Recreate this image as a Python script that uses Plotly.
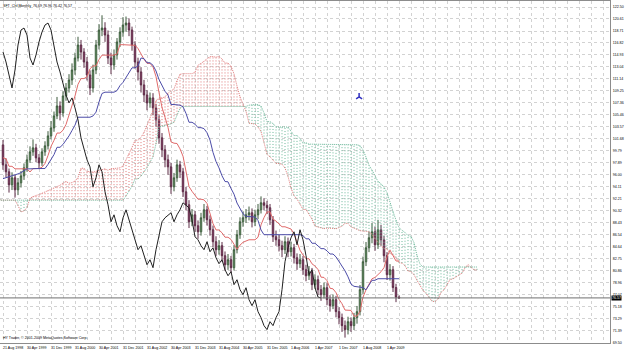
import numpy as np
import pandas as pd
import plotly.graph_objects as go

title_text = "SFT_Chf,Monthly  76.69 76.96 76.42 76.57"
copyright_text = "HY Trader, \u00a9 2001-2009 MetaQuotes Software Corp."

# Monthly bars before the first visible bar (off-screen to the left); they only feed
# the Ichimoku windows, estimated from the indicator lines seen at the left edge.
pre_high = [101.6, 98.2, 93.4, 88.6, 89.4, 91.0, 91.8, 92.4, 93.0, 93.6,
            94.2, 94.8, 95.4, 96.0, 96.8, 97.2, 97.5, 98.0, 98.6, 98.9,
            99.3, 99.0, 98.6, 99.4, 99.8, 100.2, 99.6, 100.4, 100.9, 101.2]
pre_low = [97.0, 92.0, 85.2, 82.4, 84.0, 89.3, 89.6, 89.8, 90.0, 90.3,
           90.8, 91.2, 91.8, 92.4, 93.0, 94.0, 95.0, 95.6, 96.0, 96.3,
           96.6, 96.2, 95.9, 96.4, 97.0, 97.5, 97.0, 97.6, 98.2, 98.9]

open_ = [100.73, 97.58, 96.48, 94.43, 95.53, 93.64, 94.74, 95.84, 97.11, 98.37,
         99.63, 100.26, 98.68, 97.90, 99.63, 100.58, 102.15, 103.41, 105.31, 106.88,
         105.78, 108.46, 109.72, 110.98, 112.56, 114.45, 116.50, 115.40, 113.82, 111.77,
         109.72, 112.56, 116.50, 118.87, 119.18, 118.08, 114.45, 113.35, 114.93, 116.98,
         118.55, 119.66, 119.97, 118.87, 116.50, 113.82, 112.25, 110.20, 108.62, 107.36,
         108.15, 106.57, 104.68, 101.84, 99.95, 98.37, 97.26, 94.11, 95.53, 97.58,
         96.48, 93.32, 91.27, 88.59, 89.69, 87.96, 87.01, 89.22, 90.48, 88.91,
         87.33, 85.44, 84.18, 84.81, 83.23, 81.81, 82.60, 81.34, 84.18, 86.54,
         88.59, 89.22, 89.69, 90.01, 88.59, 89.69, 90.48, 91.59, 91.20, 90.80,
         88.91, 86.23, 85.75, 84.81, 84.18, 85.44, 83.86, 84.49, 82.91, 81.97,
         82.60, 81.02, 80.07, 80.71, 78.66, 79.44, 77.87, 77.08, 78.18, 76.29,
         75.34, 76.29, 74.40, 73.45, 72.19, 71.56, 72.82, 72.19, 73.45, 74.40,
         77.87, 82.28, 84.49, 86.07, 87.01, 84.96, 87.33, 85.75, 83.23, 80.23,
         81.02, 78.20, 76.69]
high = [101.5, 98.6, 97.0, 96.4, 96.0, 95.5, 96.6, 97.8, 99.2, 100.5,
        101.6, 100.9, 99.3, 100.2, 101.3, 102.9, 104.5, 106.0, 108.3, 107.6,
        109.2, 110.5, 111.9, 113.6, 115.3, 117.8, 117.3, 116.0, 114.6, 112.5,
        113.4, 117.3, 119.8, 121.2, 120.1, 118.8, 115.3, 115.8, 117.6, 119.3,
        120.9, 121.0, 120.7, 119.4, 117.1, 114.5, 113.0, 111.0, 109.4, 109.0,
        108.9, 107.2, 105.4, 102.6, 100.7, 99.2, 97.9, 96.3, 98.4, 98.2,
        97.1, 94.1, 92.0, 90.6, 90.3, 88.8, 90.0, 91.4, 91.1, 89.6,
        88.0, 86.3, 85.7, 85.4, 83.9, 83.5, 83.2, 84.9, 87.3, 89.3,
        90.2, 90.6, 91.0, 90.7, 90.5, 91.4, 92.6, 92.3, 91.9, 91.4,
        89.5, 87.2, 86.5, 85.6, 86.3, 86.1, 85.4, 85.1, 83.6, 83.5,
        83.2, 81.8, 81.6, 81.3, 80.3, 80.1, 78.6, 79.0, 78.9, 77.0,
        77.1, 76.9, 75.1, 74.1, 73.0, 73.6, 73.5, 74.2, 75.3, 78.6,
        83.1, 85.4, 87.0, 88.4, 87.8, 88.9, 88.1, 86.4, 83.8, 81.9,
        81.6, 78.8, 76.96]
low = [96.8, 95.6, 93.2, 93.6, 92.4, 92.8, 94.0, 95.2, 96.5, 97.9,
       99.0, 98.0, 96.9, 97.4, 99.0, 100.0, 101.6, 102.8, 104.8, 104.6,
       105.2, 107.7, 109.0, 110.2, 111.8, 113.9, 114.2, 112.9, 110.9, 108.6,
       109.0, 111.9, 115.8, 117.9, 117.0, 113.5, 111.9, 112.6, 114.2, 116.2,
       117.8, 118.6, 117.9, 115.6, 112.8, 110.9, 109.0, 107.5, 106.2, 106.6,
       105.4, 103.6, 100.9, 98.8, 97.2, 96.0, 93.0, 93.4, 94.9, 95.5,
       92.5, 90.4, 87.6, 87.9, 87.0, 85.9, 86.4, 88.6, 88.0, 86.4,
       84.6, 83.2, 83.4, 82.3, 80.9, 81.0, 80.5, 80.9, 83.6, 85.9,
       87.8, 88.4, 88.8, 87.7, 87.9, 89.0, 89.9, 90.4, 89.8, 88.1,
       85.4, 84.8, 83.9, 83.0, 83.5, 83.0, 83.1, 82.0, 81.0, 81.3,
       80.2, 79.2, 79.4, 77.8, 78.0, 77.0, 76.1, 76.5, 75.4, 74.4,
       74.8, 73.5, 72.4, 71.2, 70.3, 70.8, 71.2, 71.5, 72.5, 73.8,
       77.2, 81.6, 83.8, 85.2, 84.0, 84.3, 84.8, 82.2, 79.4, 79.3,
       77.5, 75.9, 76.42]
close = [97.58, 96.48, 94.43, 95.53, 93.64, 94.74, 95.84, 97.11, 98.37, 99.63,
         100.26, 98.68, 97.90, 99.63, 100.58, 102.15, 103.41, 105.31, 106.88, 105.78,
         108.46, 109.72, 110.98, 112.56, 114.45, 116.50, 115.40, 113.82, 111.77, 109.72,
         112.56, 116.50, 118.87, 119.18, 118.08, 114.45, 113.35, 114.93, 116.98, 118.55,
         119.66, 119.97, 118.87, 116.50, 113.82, 112.25, 110.20, 108.62, 107.36, 108.15,
         106.57, 104.68, 101.84, 99.95, 98.37, 97.26, 94.11, 95.53, 97.58, 96.48,
         93.32, 91.27, 88.59, 89.69, 87.96, 87.01, 89.22, 90.48, 88.91, 87.33,
         85.44, 84.18, 84.81, 83.23, 81.81, 82.60, 81.34, 84.18, 86.54, 88.59,
         89.22, 89.69, 90.01, 88.59, 89.69, 90.48, 91.59, 91.20, 90.80, 88.91,
         86.23, 85.75, 84.81, 84.18, 85.44, 83.86, 84.49, 82.91, 81.97, 82.60,
         81.02, 80.07, 80.71, 78.66, 79.44, 77.87, 77.08, 78.18, 76.29, 75.34,
         76.29, 74.40, 73.45, 72.19, 71.56, 72.82, 72.19, 73.45, 74.40, 77.87,
         82.28, 84.49, 86.07, 87.01, 84.96, 87.33, 85.75, 83.23, 80.23, 81.02,
         78.20, 76.70, 76.57]

time_labels = ["21 Aug 1998", "30 Apr 1999", "31 Dec 1999", "31 Aug 2000", "30 Apr 2001",
               "31 Dec 2001", "31 Aug 2002", "30 Apr 2003", "31 Dec 2003", "31 Aug 2004",
               "30 Apr 2005", "31 Dec 2005", "1 Aug 2006", "1 Apr 2007", "1 Dec 2007",
               "1 Aug 2008", "1 Apr 2009"]
time_label_bars = [0, 8, 16, 24, 32, 40, 48, 56, 64, 72, 80, 88, 96, 104, 112, 120, 128]
grid_bars = list(range(0, 204, 4))

price_ticks = [122.50, 120.61, 118.71, 116.82, 114.93, 113.04, 111.14, 109.25, 107.36,
               105.46, 103.57, 101.68, 99.79, 97.89, 96.00, 94.11, 92.21, 90.32, 88.43,
               86.54, 84.64, 82.75, 80.86, 78.96, 77.07, 75.18, 73.29, 71.39, 69.50]
price_tick_labels = ["%.2f" % v for v in price_ticks]
bid_price = 76.57

tenkan_period, kijun_period, senkou_period = 9, 26, 52

arrow_bar = [118.7]
arrow_price = [108.3]

n = len(close)
n_pre = len(pre_high)
idx = np.arange(n)
full_idx = np.arange(-n_pre, n)
H = pd.Series(pre_high + high)
L = pd.Series(pre_low + low)
tenkan_f = (H.rolling(tenkan_period, min_periods=1).max() + L.rolling(tenkan_period, min_periods=1).min()) / 2
kijun_f = (H.rolling(kijun_period, min_periods=1).max() + L.rolling(kijun_period, min_periods=1).min()) / 2
span_a = ((tenkan_f + kijun_f) / 2).values
span_b = ((H.rolling(senkou_period, min_periods=1).max() + L.rolling(senkou_period, min_periods=1).min()) / 2).values
tenkan = tenkan_f.values[n_pre:]
kijun = kijun_f.values[n_pre:]
cloud_x = full_idx + kijun_period

red_x, red_y, grn_x, grn_y = [], [], [], []
for j in range(len(full_idx)):
    xx = cloud_x[j]
    if span_a[j] >= span_b[j]:
        red_x += [xx, xx, None]
        red_y += [span_b[j], span_a[j], None]
    else:
        grn_x += [xx, xx, None]
        grn_y += [span_a[j], span_b[j], None]

fig = go.Figure()
fig.add_trace(go.Scatter(x=red_x, y=red_y, mode="lines",
                         line=dict(color="#e07878", width=1, dash="1px,2px"),
                         hoverinfo="skip", showlegend=False))
fig.add_trace(go.Scatter(x=grn_x, y=grn_y, mode="lines",
                         line=dict(color="#6cb89a", width=1, dash="1px,2px"),
                         hoverinfo="skip", showlegend=False))
fig.add_trace(go.Scatter(x=cloud_x, y=span_a, mode="lines",
                         line=dict(color="#e07878", width=1, dash="1px,1px"), showlegend=False))
fig.add_trace(go.Scatter(x=cloud_x, y=span_b, mode="lines",
                         line=dict(color="#6cb89a", width=1, dash="1px,1px"), showlegend=False))

fig.add_trace(go.Candlestick(
    x=idx, open=open_, high=high, low=low, close=close,
    increasing=dict(line=dict(color="#3c5a3c", width=1), fillcolor="#86c486"),
    decreasing=dict(line=dict(color="#5a2a44", width=1), fillcolor="#a8437a"),
    whiskerwidth=0, showlegend=False))

fig.add_trace(go.Scatter(x=idx, y=tenkan, mode="lines",
                         line=dict(color="#e06a6a", width=1), showlegend=False))
fig.add_trace(go.Scatter(x=idx, y=kijun, mode="lines",
                         line=dict(color="#4c4ca8", width=1), showlegend=False))
fig.add_trace(go.Scatter(x=idx[kijun_period:] - kijun_period, y=close[kijun_period:], mode="lines",
                         line=dict(color="#202020", width=1), showlegend=False))
fig.add_trace(go.Scatter(x=arrow_bar, y=arrow_price, mode="markers",
                         marker=dict(symbol="y-up-open", size=5, color="#3030c0",
                                     line=dict(color="#3030c0", width=1.5)),
                         showlegend=False))

fig.add_shape(type="line", xref="paper", x0=0, x1=1, yref="y", y0=bid_price, y1=bid_price,
              line=dict(color="#707070", width=1))

small = dict(family="Liberation Sans, Arial, sans-serif", size=3.6, color="#000000")
for b, t in zip(time_label_bars, time_labels):
    fig.add_annotation(x=b, y=0, xref="x", yref="paper", text=t, showarrow=False,
                       xanchor="left", yanchor="top", xshift=-2, yshift=-1, font=small)
fig.add_annotation(x=0, y=1, xref="paper", yref="paper", text=title_text, showarrow=False,
                   xanchor="left", yanchor="top", xshift=1, yshift=-1, font=small)
fig.add_annotation(x=0, y=0, xref="paper", yref="paper", text=copyright_text, showarrow=False,
                   xanchor="left", yanchor="bottom", xshift=1, yshift=1, font=small)
fig.add_annotation(x=1, y=bid_price, xref="paper", yref="y", text=str(bid_price), showarrow=False,
                   xanchor="left", yanchor="middle", xshift=1, bgcolor="#000000",
                   borderpad=0, font=dict(family="Liberation Sans, Arial, sans-serif", size=3.6, color="#ffffff"))

fig.update_layout(
    width=625, height=350, margin=dict(l=0, r=15, t=1, b=7),
    paper_bgcolor="#ffffff", plot_bgcolor="#ffffff",
    xaxis=dict(range=[-1, 202.33], tickvals=grid_bars, showticklabels=False, ticks="",
               showgrid=True, gridcolor="#d2d2d2", griddash="dot", gridwidth=1,
               zeroline=False, showline=True, linecolor="#8c8c8c", linewidth=1, mirror=True,
               rangeslider=dict(visible=False)),
    yaxis=dict(range=[69.45, 123.45], side="right", tickvals=price_ticks, ticktext=price_tick_labels,
               ticks="", tickfont=small, showgrid=True, gridcolor="#d2d2d2", griddash="dot",
               gridwidth=1, zeroline=False, showline=True, linecolor="#8c8c8c", linewidth=1,
               mirror=True, ticklabelstandoff=1),
    font=small,
)

fig.write_html("out.html")
